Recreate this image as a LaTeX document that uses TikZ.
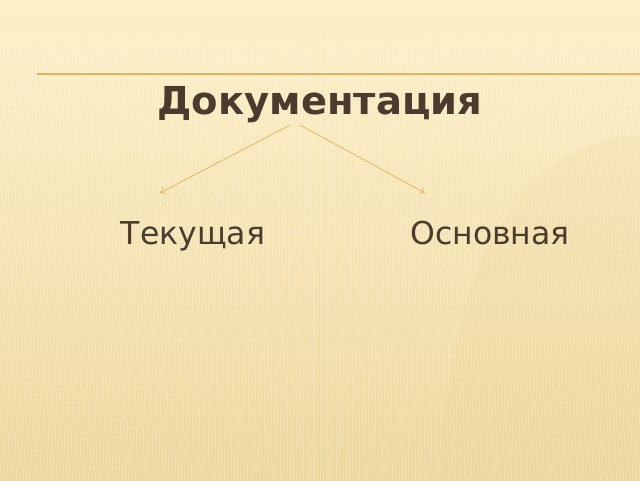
\documentclass[tikz,border=0pt]{standalone}
\usepackage{fontspec}
\setmainfont{DejaVu Sans}
\usetikzlibrary{arrows.meta}
\definecolor{txt}{HTML}{4A3B2E}
\definecolor{accent}{HTML}{E9B259}
\definecolor{bgtop}{HTML}{FDF0C8}
\definecolor{bgbot}{HTML}{EDD69C}
\begin{document}
\begin{tikzpicture}[x=1pt,y=-1pt,
  title/.style={font=\bfseries\fontsize{38.5}{44}\selectfont, text=txt, anchor=base, inner sep=0pt},
  item/.style={font=\fontsize{31.5}{38}\selectfont, text=txt, anchor=base, inner sep=0pt},
  conn/.style={draw=accent, line width=0.7pt, -{To[length=5pt,width=8pt]}}]
\useasboundingbox (0,0) rectangle (640,480);
\shade[top color=bgtop, bottom color=bgbot] (0,0) rectangle (640,480);
\foreach \x in {-40,-37,...,680} {
  \draw[white, opacity=0.28, line width=0.9pt] (\x,32) -- ({\x+(\x-320)*0.1},480);
}
\shade[top color=bgtop, bottom color=bgtop, opacity=0.9] (0,0) rectangle (640,28);
\fill[bgtop, opacity=0.5] (0,28) rectangle (640,40);
\fill[bgbot, opacity=0.2] (440,480) .. controls (450,230) and (540,140) .. (640,135) -- (640,480) -- cycle;
\draw[accent, line width=1.6pt] (37,74) -- (640,74);
\node[title] (doc) at (320,114) {Документация};
\node[item] (cur) at (193,244) {Текущая};
\node[item] (main) at (490,244) {Основная};
\coordinate (s1) at (290,125);
\coordinate (s2) at (300,125);
\coordinate (e1) at (160,193);
\coordinate (e2) at (425,193);
\draw[conn] (s1) -- (e1);
\draw[conn] (s2) -- (e2);
\end{tikzpicture}
\end{document}
